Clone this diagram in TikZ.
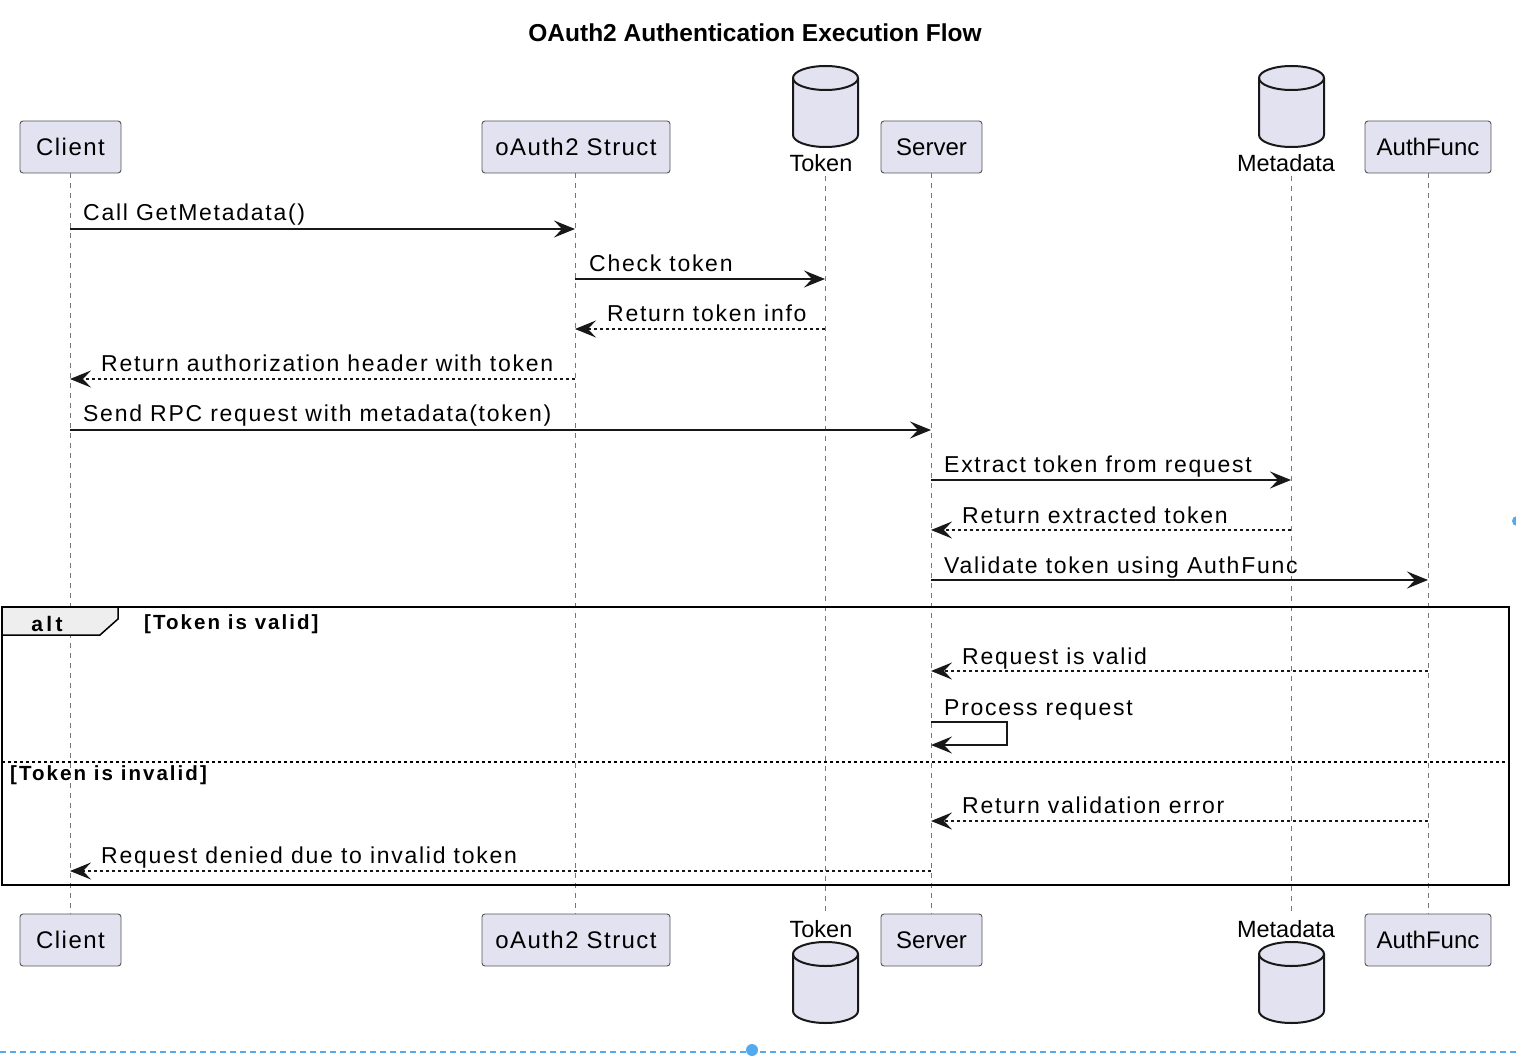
\documentclass[tikz,border=0pt]{standalone}
\usepackage{fontspec}
\setmainfont{Liberation Sans}
\newfontfamily\msgfont[LetterSpace=7.5]{Liberation Sans}
\newfontfamily\boxfont[LetterSpace=6]{Liberation Sans}
\newfontfamily\plainfont{Liberation Sans}
\newfontfamily\altfont[LetterSpace=10]{Liberation Sans Bold}
\newfontfamily\alttab[LetterSpace=16]{Liberation Sans Bold}
\usetikzlibrary{arrows.meta,calc}
\definecolor{pfill}{HTML}{E2E2F0}
\definecolor{pborder}{HTML}{555555}
\definecolor{ink}{HTML}{181818}
\definecolor{lifec}{HTML}{777777}
\definecolor{tabfill}{HTML}{EEEEEE}
\definecolor{selblue}{HTML}{55AAEE}
\tikzset{
  part/.style={draw=pborder, fill=pfill, rounded corners=3pt, line width=0.9pt,
    minimum height=52pt, inner sep=0pt, font=\fontsize{24}{28}\selectfont\boxfont},
  cyllbl/.style={inner sep=0pt, font=\fontsize{23.5}{26}\selectfont\plainfont},
  cylbody/.style={draw=ink, fill=pfill, line width=2pt},
  life/.style={draw=lifec, dash pattern=on 5pt off 5pt, line width=1pt},
  msg/.style={draw=ink, line width=1.4pt, -{Stealth[length=21pt,width=17pt,inset=8pt]}},
  ret/.style={msg, dash pattern=on 3.5pt off 2.5pt},
  lbl/.style={anchor=base west, inner sep=0pt, font=\fontsize{23}{26}\selectfont\msgfont},
  altlbl/.style={anchor=base west, inner sep=0pt, font=\fontsize{20.5}{24}\selectfont\altfont}
}
\newcommand\cyl[2]{% center x, top y of ellipse center
  \path[cylbody] (#1-32.5,#2) -- (#1-32.5,#2+57) arc[start angle=180,end angle=0,x radius=32.5,y radius=12]
    -- (#1+32.5,#2) arc[start angle=0,end angle=-180,x radius=32.5,y radius=12] -- cycle;
  \draw[draw=ink, line width=2pt] (#1-32.5,#2) arc[start angle=180,end angle=0,x radius=32.5,y radius=12];
}
\begin{document}
\begin{tikzpicture}[x=1pt,y=-1pt]
\useasboundingbox (0,0) rectangle (1516,1056);

% title
\node[inner sep=0pt, font=\fontsize{24.5}{28}\selectfont\bfseries] (title) at (755,33) {OAuth2 Authentication Execution Flow};

% top participants
\node[part, minimum width=101pt] (Client) at (70.5,147) {Client};
\node[part, minimum width=188pt] (OAuth) at (576,147) {oAuth2 Struct};
\node[part, minimum width=101pt, font=\fontsize{24}{28}\selectfont\plainfont] (Server) at (931.5,147) {Server};
\node[part, minimum width=126pt, font=\fontsize{24}{28}\selectfont\plainfont] (Auth) at (1428,147) {AuthFunc};
\cyl{825.5}{78}
\node[cyllbl] (Token) at (821,163) {Token};
\cyl{1291.5}{78}
\node[cyllbl] (Meta) at (1286,163) {Metadata};

% bottom participants
\node[part, minimum width=101pt] (ClientB) at (70.5,940) {Client};
\node[part, minimum width=188pt] (OAuthB) at (576,940) {oAuth2 Struct};
\node[part, minimum width=101pt, font=\fontsize{24}{28}\selectfont\plainfont] (ServerB) at (931.5,940) {Server};
\node[part, minimum width=126pt, font=\fontsize{24}{28}\selectfont\plainfont] (AuthB) at (1428,940) {AuthFunc};
\node[cyllbl] (TokenB) at (821,929) {Token};
\cyl{825.5}{954}
\node[cyllbl] (MetaB) at (1286,929) {Metadata};
\cyl{1291.5}{954}

% lifelines
\coordinate (tokT) at (825,176);
\coordinate (tokB) at (825,914);
\coordinate (metT) at (1291,176);
\coordinate (metB) at (1291,914);
\coordinate (cliX) at (70,0);
\coordinate (oauX) at (575,0);
\coordinate (serX) at (931,0);
\coordinate (autX) at (1428,0);
\draw[life] (cliX |- Client.south) -- (cliX |- ClientB.north);
\draw[life] (oauX |- OAuth.south) -- (oauX |- OAuthB.north);
\draw[life] (tokT) -- (tokB);
\draw[life] (serX |- Server.south) -- (serX |- ServerB.north);
\draw[life] (metT) -- (metB);
\draw[life] (autX |- Auth.south) -- (autX |- AuthB.north);

% messages
\draw[msg] (cliX |- 0,229) -- (oauX |- 0,229);
\node[lbl] (m1) at (83,221) {Call GetMetadata()};
\draw[msg] (oauX |- 0,279) -- (tokT |- 0,279);
\node[lbl] (m2) at (589,272) {Check token};
\draw[ret] (tokT |- 0,329) -- (oauX |- 0,329);
\node[lbl] (m3) at (607,322) {Return token info};
\draw[ret] (oauX |- 0,379) -- (cliX |- 0,379);
\node[lbl] (m4) at (101,372) {Return authorization header with token};
\draw[msg] (cliX |- 0,430) -- (serX |- 0,430);
\node[lbl] (m5) at (83,422) {Send RPC request with metadata(token)};
\draw[msg] (serX |- 0,480) -- (metT |- 0,480);
\node[lbl] (m6) at (944,473) {Extract token from request};
\draw[ret] (metT |- 0,530) -- (serX |- 0,530);
\node[lbl] (m7) at (962,523) {Return extracted token};
\draw[msg] (serX |- 0,580) -- (autX |- 0,580);
\node[lbl] (m8) at (944,573) {Validate token using AuthFunc};

% alt frame
\draw[draw=black, line width=2pt] (2,607) rectangle (1509,885);
\filldraw[draw=black, fill=tabfill, line width=1.5pt] (2,607) -- (118,607) -- (118,619) -- (100,635) -- (2,635) -- cycle;
\node[inner sep=0pt, anchor=base, font=\fontsize{21}{24}\selectfont\alttab] (alt) at (47,631) {alt};
\node[altlbl] (g1) at (144,629) {[Token is valid]};
\draw[ret] (autX |- 0,671) -- (serX |- 0,671);
\node[lbl] (m9) at (962,664) {Request is valid};
\draw[msg] (serX |- 0,722) -- (1007,722) -- (1007,745) -- (serX |- 0,745);
\node[lbl] (m10) at (944,715) {Process request};
\draw[draw=black, line width=1.3pt, dash pattern=on 3pt off 3pt] (2,762) -- (1509,762);
\node[altlbl] (g2) at (10,780) {[Token is invalid]};
\draw[ret] (autX |- 0,821) -- (serX |- 0,821);
\node[lbl] (m11) at (962,813) {Return validation error};
\draw[ret] (serX |- 0,871) -- (cliX |- 0,871);
\node[lbl] (m12) at (101,863) {Request denied due to invalid token};

% selection artefacts
\draw[selblue, line width=1.5pt, dash pattern=on 6pt off 4pt] (0,1052) -- (1516,1052);
\fill[selblue] (752,1050) circle (6);
\fill[selblue] (1517,521) circle (5);
\end{tikzpicture}
\end{document}
